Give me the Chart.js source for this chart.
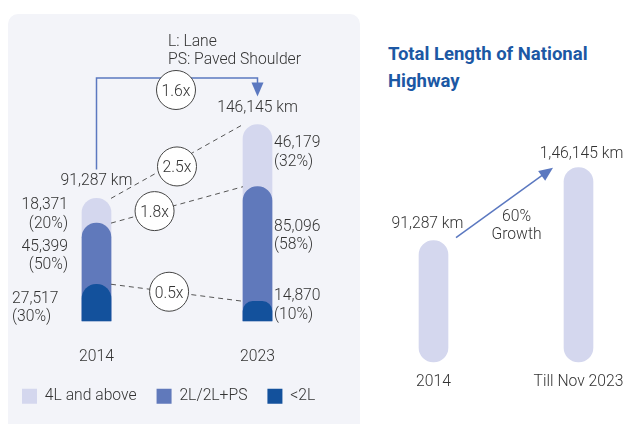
<!DOCTYPE html>
<html>
<head>
<meta charset="utf-8">
<script src="https://cdn.jsdelivr.net/npm/chart.js@4.4.1/dist/chart.umd.min.js"></script>
<style>
html, body { margin: 0; padding: 0; width: 625px; height: 424px; overflow: hidden; background: #fff; font-family: Roboto, sans-serif; }
#panel { position: absolute; left: 8px; top: 14px; width: 352px; height: 440px; background: #f3f4f9; border-radius: 10px; }
#leftBox { position: absolute; left: 0; top: 0; width: 360px; height: 424px; }
#rightBox { position: absolute; left: 340px; top: 0; width: 320px; height: 424px; }
#title { position: absolute; left: 388px; top: 41px; color: #1c58a4; font-weight: 700; font-size: 18.5px; line-height: 27px; }
</style>
</head>
<body>
<div id="panel"></div>
<div id="leftBox"><canvas id="leftChart"></canvas></div>
<div id="title">Total Length of National<br>Highway</div>
<div id="rightBox"><canvas id="rightChart"></canvas></div>
<script>
// datos del panel izquierdo (km por tipo de carril)
var years = ['2014', '2023'];
var below2L = [27517, 14870];
var twoLane = [45399, 85096];
var fourLane = [18371, 46179];
var growthLabels = ['2.5x', '1.8x', '0.5x'];   // 4L, 2L, <2L
var totalGrowth = '1.6x';

// datos del panel derecho
var rightLabels = ['2014', 'Till Nov 2023'];
var rightTotals = [91287, 146145];

var LIGHT = '#d4d7ee', MID = '#6079bb', DARK = '#13519c';
var TEXT = '#333333', FONT = 'Roboto, sans-serif';
var FS = 15.7;

// acumulados para dibujar las barras superpuestas
var cumDark = below2L.slice();
var cumMid = below2L.map(function(v, i) { return v + twoLane[i]; });
var cumLight = cumMid.map(function(v, i) { return v + fourLane[i]; });

function fmt(n) { return n.toLocaleString('en-US'); }
function pct(v, t) { return '(' + Math.round(v / t * 100) + '%)'; }

function circleLabel(ctx, cx, cy, txt) {
    ctx.save();
    ctx.setLineDash([]);
    ctx.beginPath();
    ctx.arc(cx, cy, 19.5, 0, Math.PI * 2);
    ctx.fillStyle = '#fff';
    ctx.fill();
    ctx.strokeStyle = '#444';
    ctx.lineWidth = 1;
    ctx.stroke();
    ctx.fillStyle = TEXT;
    ctx.textAlign = 'center';
    ctx.textBaseline = 'middle';
    ctx.fillText(txt, cx, cy + 2);
    ctx.restore();
}

var leftNotes = {
    id: 'leftNotes',
    afterDatasetsDraw: function(chart) {
        var ctx = chart.ctx, xs = chart.scales.x, ys = chart.scales.y;
        var half = 14.5;
        var x0 = xs.getPixelForValue(0), x1 = xs.getPixelForValue(1);
        var bottom = ys.getPixelForValue(0);
        ctx.save();
        ctx.font = '300 ' + FS + 'px ' + FONT;
        ctx.fillStyle = TEXT;

        // lineas punteadas entre segmentos
        var series = [cumLight, cumMid, cumDark];
        var circ = [[0.5, 5], [0.33, 0], [0.44, 0]];
        series.forEach(function(s, k) {
            var ax = x0 + half, ay = ys.getPixelForValue(s[0]);
            var bx = x1 - half, by = ys.getPixelForValue(s[1]);
            ctx.beginPath();
            ctx.setLineDash([5, 4]);
            ctx.strokeStyle = '#555';
            ctx.lineWidth = 1;
            ctx.moveTo(ax, ay);
            ctx.lineTo(bx, by);
            ctx.stroke();
            var t = circ[k][0];
            circleLabel(ctx, ax + (bx - ax) * t, ay + (by - ay) * t + circ[k][1], growthLabels[k]);
        });
        ctx.setLineDash([]);

        // totales
        var top0 = ys.getPixelForValue(cumLight[0]), top1 = ys.getPixelForValue(cumLight[1]);
        ctx.textAlign = 'center';
        ctx.textBaseline = 'middle';
        ctx.fillText(fmt(cumLight[0]) + ' km', x0, top0 - 17);
        ctx.fillText(fmt(cumLight[1]) + ' km', x1, top1 - 16);

        // flecha azul 1.6x
        ctx.strokeStyle = '#5b78c0';
        ctx.fillStyle = '#5b78c0';
        ctx.lineWidth = 1.5;
        ctx.beginPath();
        ctx.moveTo(x0, top0 - 29);
        ctx.lineTo(x0, 78);
        ctx.lineTo(x1, 78);
        ctx.lineTo(x1, top1 - 40);
        ctx.stroke();
        ctx.beginPath();
        ctx.moveTo(x1 - 6, top1 - 42);
        ctx.lineTo(x1 + 6, top1 - 42);
        ctx.lineTo(x1, top1 - 28);
        ctx.closePath();
        ctx.fill();
        circleLabel(ctx, (x0 + x1) / 2 - 1, 90, totalGrowth);

        ctx.fillStyle = TEXT;
        ctx.textAlign = 'left';
        ctx.fillText('L: Lane', 168, 42);
        ctx.fillText('PS: Paved Shoulder', 168, 60);

        // etiquetas de segmentos 2014 (izquierda)
        var tot0 = cumLight[0], tot1 = cumLight[1];
        ctx.textAlign = 'right';
        var rx = x0 - half - 14;
        var yl = ys.getPixelForValue(cumLight[0]) + 7;
        ctx.fillText(fmt(fourLane[0]), rx, yl);
        ctx.fillText(pct(fourLane[0], tot0), rx, yl + 19);
        var ym = ys.getPixelForValue(cumMid[0]) + 24;
        ctx.fillText(fmt(twoLane[0]), rx, ym);
        ctx.fillText(pct(twoLane[0], tot0), rx, ym + 18);
        ctx.textAlign = 'left';
        ctx.fillText(fmt(below2L[0]), 12, bottom - 22);
        ctx.fillText(pct(below2L[0], tot0), 12, bottom - 4);

        // etiquetas de segmentos 2023 (derecha)
        var lx = x1 + half + 2;
        var y2 = ys.getPixelForValue(cumLight[1]) + 19;
        ctx.fillText(fmt(fourLane[1]), lx, y2);
        ctx.fillText(pct(fourLane[1], tot1), lx, y2 + 19);
        var y3 = ys.getPixelForValue(cumMid[1]) + 40;
        ctx.fillText(fmt(twoLane[1]), lx, y3);
        ctx.fillText(pct(twoLane[1], tot1), lx, y3 + 18);
        ctx.fillText(fmt(below2L[1]), lx, bottom - 25);
        ctx.fillText(pct(below2L[1], tot1), lx, bottom - 6);
        ctx.restore();
    }
};

var rightNotes = {
    id: 'rightNotes',
    afterDatasetsDraw: function(chart) {
        var ctx = chart.ctx, xs = chart.scales.x, ys = chart.scales.y;
        var half = 14.5;
        var x0 = xs.getPixelForValue(0), x1 = xs.getPixelForValue(1);
        var top0 = ys.getPixelForValue(rightTotals[0]), top1 = ys.getPixelForValue(rightTotals[1]);
        ctx.save();
        ctx.font = '300 ' + FS + 'px ' + FONT;
        ctx.fillStyle = TEXT;
        ctx.textAlign = 'center';
        ctx.textBaseline = 'middle';
        ctx.fillText(rightTotals[0].toLocaleString('en-IN') + ' km', x0 - 6, top0 - 17);
        ctx.fillText(rightTotals[1].toLocaleString('en-IN') + ' km', x1 + 3, top1 - 14);

        // flecha de crecimiento
        var ax = x0 + half + 8, ay = top0 - 3;
        var bx = x1 - half - 11, by = top1;
        var ang = Math.atan2(by - ay, bx - ax);
        ctx.strokeStyle = '#5b78c0';
        ctx.fillStyle = '#5b78c0';
        ctx.lineWidth = 1.5;
        ctx.beginPath();
        ctx.moveTo(ax, ay);
        ctx.lineTo(bx - Math.cos(ang) * 10, by - Math.sin(ang) * 10);
        ctx.stroke();
        ctx.beginPath();
        ctx.moveTo(bx, by);
        ctx.lineTo(bx - Math.cos(ang) * 14 + Math.sin(ang) * 6, by - Math.sin(ang) * 14 - Math.cos(ang) * 6);
        ctx.lineTo(bx - Math.cos(ang) * 14 - Math.sin(ang) * 6, by - Math.sin(ang) * 14 + Math.cos(ang) * 6);
        ctx.closePath();
        ctx.fill();

        var growth = Math.round((rightTotals[1] / rightTotals[0] - 1) * 100);
        var mx = (ax + bx) / 2, my = (ay + by) / 2;
        ctx.fillStyle = TEXT;
        ctx.fillText(growth + '%', mx + 12, my + 14);
        ctx.fillText('Growth', mx + 12, my + 32);
        ctx.restore();
    }
};

Chart.defaults.font.family = FONT;
Chart.defaults.color = TEXT;

new Chart(document.getElementById('leftChart').getContext('2d'), {
    type: 'bar',
    data: {
        labels: years,
        datasets: [
            { label: '<2L', data: cumDark, backgroundColor: DARK },
            { label: '2L/2L+PS', data: cumMid, backgroundColor: MID },
            { label: '4L and above', data: cumLight, backgroundColor: LIGHT }
        ]
    },
    options: {
        responsive: true,
        maintainAspectRatio: false,
        animation: false,
        datasets: { bar: { grouped: false, barThickness: 29, borderRadius: 15, borderSkipped: 'start' } },
        layout: { padding: { left: 2, right: 22, top: 52, bottom: 10 } },
        scales: {
            x: {
                grid: { display: false, drawTicks: false },
                border: { display: false },
                ticks: { padding: 26, font: { size: FS, weight: 300 }, color: TEXT },
                afterFit: function(s) { s.height = 47; }
            },
            y: {
                min: 0, max: 200000,
                grid: { display: false, drawTicks: false },
                border: { display: false },
                ticks: { display: false },
                afterFit: function(s) { s.width = 14; }
            }
        },
        plugins: {
            legend: {
                position: 'bottom',
                align: 'start',
                reverse: true,
                labels: { boxWidth: 15, boxHeight: 15, padding: 20, color: TEXT, font: { size: FS, weight: 300 } }
            },
            tooltip: { enabled: false }
        }
    },
    plugins: [leftNotes]
});

new Chart(document.getElementById('rightChart').getContext('2d'), {
    type: 'bar',
    data: {
        labels: rightLabels,
        datasets: [{ data: rightTotals, backgroundColor: LIGHT, borderRadius: 15, borderSkipped: false, barThickness: 29, clip: false }]
    },
    options: {
        responsive: true,
        maintainAspectRatio: false,
        animation: false,
        layout: { padding: { left: 93.5, right: 81.5, top: 162.5, bottom: 22 } },
        scales: {
            x: {
                offset: false,
                grid: { display: false, drawTicks: false },
                border: { display: false },
                ticks: { padding: 11, font: { size: FS, weight: 300 }, color: TEXT, maxRotation: 0, autoSkip: false },
                afterFit: function(s) { s.height = 40; }
            },
            y: { display: false, min: 0, max: 150000 }
        },
        plugins: { legend: { display: false }, tooltip: { enabled: false } }
    },
    plugins: [rightNotes]
});
</script>
</body>
</html>
